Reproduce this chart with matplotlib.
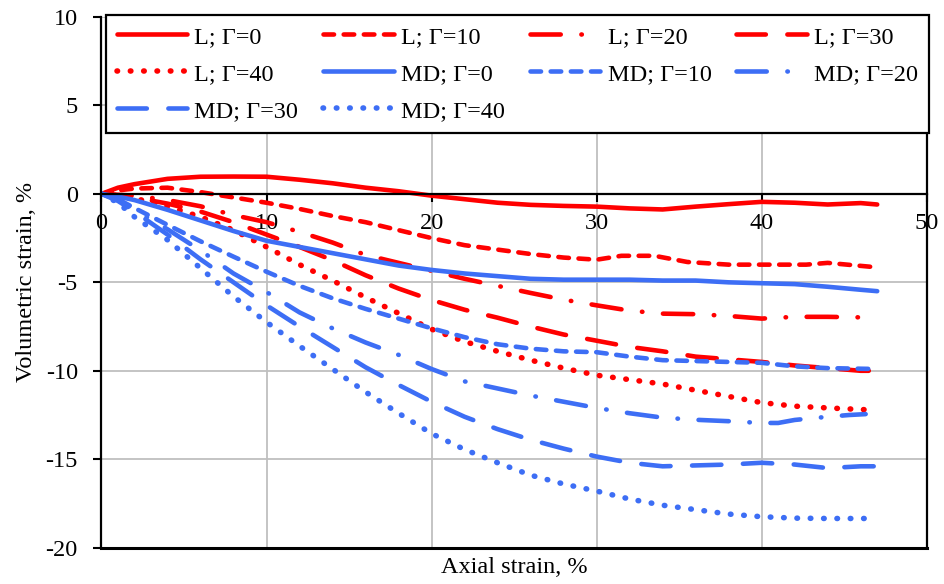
import matplotlib
matplotlib.use("Agg")
import matplotlib.pyplot as plt

plt.rcParams['font.family'] = ['Liberation Serif', 'DejaVu Serif']
plt.rcParams['axes.unicode_minus'] = False

RED = '#ff0000'
BLUE = '#3d6ef5'

# --- data (axial strain %, volumetric strain %) ---
x_std = [0, 1, 2, 4, 6, 8, 10, 12, 14, 16, 18, 20, 22, 24, 26, 28, 30, 32, 34, 36, 38, 40, 42, 44, 46, 47]

L_0 = [0, 0.35, 0.55, 0.85, 0.97, 0.98, 0.97, 0.8, 0.6, 0.35, 0.15, -0.1, -0.3, -0.5, -0.62,
       -0.68, -0.72, -0.82, -0.88, -0.72, -0.58, -0.45, -0.5, -0.6, -0.52, -0.6]
L_20 = [0, -0.05, -0.1, -0.35, -0.7, -1.2, -1.6, -2.15, -2.75, -3.45, -3.9, -4.35, -4.8, -5.2,
        -5.6, -5.98, -6.3, -6.6, -6.77, -6.8, -6.9, -7.05, -6.95, -6.95, -6.98, -6.98]
L_30 = [0, -0.1, -0.2, -0.55, -1.0, -1.6, -2.3, -3.0, -3.75, -4.6, -5.35, -6.0, -6.55, -7.0,
        -7.5, -7.95, -8.3, -8.65, -8.9, -9.2, -9.35, -9.5, -9.7, -9.85, -10.0, -10.0]
MD_0 = [0, -0.15, -0.35, -0.9, -1.5, -2.1, -2.65, -3.0, -3.35, -3.7, -4.05, -4.3, -4.5, -4.65,
        -4.8, -4.85, -4.85, -4.85, -4.9, -4.9, -5.0, -5.05, -5.1, -5.25, -5.42, -5.5]
MD_30 = [0, -0.4, -1.0, -2.3, -3.7, -5.0, -6.3, -7.5, -8.65, -9.8, -10.8, -11.75, -12.6, -13.3,
         -13.9, -14.4, -14.85, -15.2, -15.4, -15.35, -15.3, -15.2, -15.3, -15.5, -15.4, -15.4]

x_l10 = [0, 1, 2, 4, 6, 8, 10, 12, 14, 16, 18, 20, 22, 24, 26, 28, 30, 31.5, 33.5, 35.5, 38, 40, 42.7, 44, 46.6]
L_10 = [0, 0.2, 0.3, 0.35, 0.1, -0.2, -0.5, -0.85, -1.25, -1.6, -2.05, -2.5, -2.9, -3.15, -3.4,
        -3.6, -3.72, -3.5, -3.5, -3.85, -4.0, -4.0, -4.0, -3.9, -4.12]

x_dot = [0, 1, 2, 4, 6, 8, 10, 12, 14, 16, 18, 20, 22, 24, 26, 28, 30, 32, 34, 36, 38, 40, 42, 44, 46.3]
L_40 = [0, -0.1, -0.25, -0.7, -1.3, -2.05, -3.0, -4.0, -4.9, -5.85, -6.75, -7.65, -8.35, -8.9,
        -9.4, -9.85, -10.25, -10.5, -10.75, -11.1, -11.45, -11.8, -12.0, -12.1, -12.2]
MD_40 = [0, -0.5, -1.3, -2.6, -4.2, -5.8, -7.25, -8.6, -9.9, -11.2, -12.4, -13.55, -14.45, -15.2,
         -15.9, -16.4, -16.8, -17.25, -17.6, -17.85, -18.1, -18.25, -18.33, -18.35, -18.35]

x_md10 = [0, 1, 2, 4, 6, 8, 10, 12, 14, 16, 18, 20, 22, 24, 26, 28, 30, 32, 34, 36, 38, 40, 42, 44, 47]
MD_10 = [0, -0.3, -0.8, -1.75, -2.68, -3.55, -4.4, -5.2, -5.9, -6.5, -7.05, -7.6, -8.1, -8.5,
         -8.75, -8.9, -8.95, -9.2, -9.4, -9.45, -9.5, -9.55, -9.75, -9.85, -9.9]

x_md20 = [0, 1, 2, 4, 6, 8, 10, 12, 14, 16, 18, 20, 22, 24, 26, 28, 30, 32, 34, 36, 38, 40, 41, 42, 44, 45.3, 46.3]
MD_20 = [0, -0.35, -0.9, -2.0, -3.2, -4.5, -5.55, -6.7, -7.6, -8.4, -9.1, -9.9, -10.6, -11.0,
         -11.4, -11.75, -12.1, -12.4, -12.65, -12.77, -12.85, -12.95, -12.95, -12.78, -12.6, -12.5, -12.45]

# dash patterns, in line-width units (round caps)
DASH = (2.3, 2.1)
LONG_DASH = (6.4, 4.7)
DASH_DOT = (6.6, 4.5, 0.1, 4.5)
DOT = (0.1, 2.3)

series = [
    ("L; Γ=0", x_std, L_0, RED, None),
    ("L; Γ=10", x_l10, L_10, RED, DASH),
    ("L; Γ=20", x_std, L_20, RED, DASH_DOT),
    ("L; Γ=30", x_std, L_30, RED, LONG_DASH),
    ("L; Γ=40", x_dot, L_40, RED, DOT),
    ("MD; Γ=0", x_std, MD_0, BLUE, None),
    ("MD; Γ=10", x_md10, MD_10, BLUE, DASH),
    ("MD; Γ=20", x_md20, MD_20, BLUE, DASH_DOT),
    ("MD; Γ=30", x_std, MD_30, BLUE, LONG_DASH),
    ("MD; Γ=40", x_dot, MD_40, BLUE, DOT),
]

fig = plt.figure(figsize=(9.44, 5.84), dpi=100)
ax = fig.add_axes([0.1075, 0.0622, 0.8742, 0.9087])

handles = []
for label, xs, ys, col, dash in series:
    if dash is None:
        h, = ax.plot(xs, ys, color=col, lw=3.3, label=label, solid_capstyle='round')
    else:
        lw = 4.0 if dash == DOT else 3.3
        h, = ax.plot(xs, ys, color=col, lw=lw, label=label, dashes=dash,
                     dash_capstyle='round')
    handles.append(h)

ax.set_xlim(0, 50)
ax.set_ylim(-20, 10)
ax.set_xticks(range(0, 51, 10))
ax.set_yticks(range(-20, 11, 5))

ax.grid(True, color='#bfbfbf', lw=1.3)
ax.set_axisbelow(True)

ax.spines['bottom'].set_position(('data', 0))
ax.spines['top'].set_visible(False)
for s in ['bottom', 'left', 'right']:
    ax.spines[s].set_linewidth(1.6)
    ax.spines[s].set_color('black')
ax.axhline(-20, color='black', lw=2.2, clip_on=False, zorder=3)

ax.tick_params(axis='both', direction='out', length=6, width=1.5, labelsize=17.5)
ax.tick_params(axis='x', pad=8)
ax.tick_params(axis='y', pad=11)

ax.set_xlabel("Axial strain, %", fontsize=17.5)
ax.xaxis.set_label_coords(0.5, -0.018)
ax.set_ylabel("Volumetric strain, %", fontsize=17.5, labelpad=6)

# legend laid out row-wise like the original (matplotlib fills columns)
order = [0, 4, 8, 1, 5, 9, 2, 6, 3, 7]
leg = ax.legend([handles[i] for i in order], [series[i][0] for i in order],
                ncol=4, loc='upper left', bbox_to_anchor=(0.005, 1.004, 0.998, 0.0),
                mode='expand', borderaxespad=0, fontsize=17.5, handlelength=2.9,
                handletextpad=0.3, labelspacing=0.62, borderpad=0.45, columnspacing=0.6,
                frameon=True, fancybox=False, framealpha=1, edgecolor='black')
leg.get_frame().set_linewidth(1.6)

fig.savefig("out.png", dpi=100)
